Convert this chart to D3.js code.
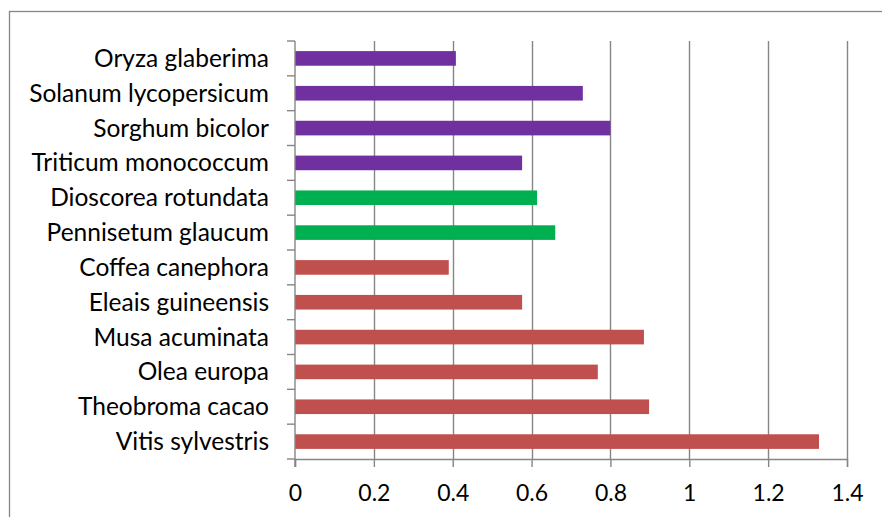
<!DOCTYPE html>
<html>
<head>
<meta charset="utf-8">
<script src="https://cdn.jsdelivr.net/npm/d3@7"></script>
<style>
  body { margin: 0; background: #fff; }
  text { font-family: Lato, "Open Sans", sans-serif; fill: #000; }
</style>
</head>
<body>
<svg id="chart" width="882" height="517"></svg>
<script>
// categories top to bottom
var species = ["Oryza glaberima", "Solanum lycopersicum", "Sorghum bicolor", "Triticum monococcum",
    "Dioscorea rotundata", "Pennisetum glaucum", "Coffea canephora", "Eleais guineensis",
    "Musa acuminata", "Olea europa", "Theobroma cacao", "Vitis sylvestris"];
var values = [0.408, 0.73, 0.80, 0.576, 0.614, 0.66, 0.39, 0.576, 0.885, 0.768, 0.898, 1.329];
var groups = ["purple", "purple", "purple", "purple", "green", "green", "red", "red", "red", "red", "red", "red"];
var xTicks = [0, 0.2, 0.4, 0.6, 0.8, 1, 1.2, 1.4];

var colors = { purple: "#7030A0", green: "#00B050", red: "#C0504D" };
var gridColor = "#868686";

var svg = d3.select("#chart");
var plotLeft = 295, plotRight = 847, plotTop = 41, plotBottom = 459;

// outer frame
svg.append("rect")
    .attr("x", 9.5).attr("y", 11.5)
    .attr("width", 900).attr("height", 600)
    .attr("fill", "none")
    .attr("stroke", gridColor)
    .attr("stroke-width", 1.3);

var xScale = d3.scaleLinear().domain([0, 1.4]).range([plotLeft, plotRight]);
var yScale = d3.scaleBand().domain(species).range([plotTop, plotBottom]).paddingInner(0.58).paddingOuter(0.29);

// vertical gridlines
svg.append("g")
    .attr("class", "grid")
    .selectAll("line")
    .data(xTicks.slice(1))
    .enter().append("line")
    .attr("x1", d => Math.round(xScale(d)) + 0.5)
    .attr("x2", d => Math.round(xScale(d)) + 0.5)
    .attr("y1", plotTop)
    .attr("y2", plotBottom)
    .attr("stroke", gridColor)
    .attr("stroke-width", 1.4);

// bars
svg.append("g")
    .selectAll("rect")
    .data(species)
    .enter().append("rect")
    .attr("x", xScale(0))
    .attr("y", d => yScale(d))
    .attr("width", (d, i) => xScale(values[i]) - xScale(0))
    .attr("height", yScale.bandwidth())
    .attr("fill", (d, i) => colors[groups[i]]);

// bottom axis
var xAxis = svg.append("g")
    .attr("transform", `translate(0,${plotBottom})`)
    .call(d3.axisBottom(xScale).tickValues(xTicks).tickSize(8).tickPadding(18).tickFormat(d3.format("")));
xAxis.select(".domain").attr("stroke", gridColor).attr("stroke-width", 1.4);
xAxis.selectAll(".tick line").attr("stroke", gridColor).attr("stroke-width", 1.4);
xAxis.selectAll("text").style("font-size", "23px").attr("font-family", null);

// left axis: ticks at category boundaries
var bandStep = (plotBottom - plotTop) / species.length;
var boundaries = d3.range(species.length + 1).map(i => plotTop + i * bandStep);
var yAxis = svg.append("g");
yAxis.append("line")
    .attr("x1", plotLeft).attr("x2", plotLeft)
    .attr("y1", plotTop).attr("y2", plotBottom + 8)
    .attr("stroke", gridColor).attr("stroke-width", 1.4);
yAxis.selectAll(".bt")
    .data(boundaries)
    .enter().append("line")
    .attr("class", "bt")
    .attr("x1", plotLeft - 8).attr("x2", plotLeft)
    .attr("y1", d => d).attr("y2", d => d)
    .attr("stroke", gridColor).attr("stroke-width", 1.4);

// category labels
svg.append("g")
    .selectAll("text")
    .data(species)
    .enter().append("text")
    .attr("x", plotLeft - 26)
    .attr("y", d => yScale(d) + yScale.bandwidth() / 2)
    .attr("dy", "0.35em")
    .attr("text-anchor", "end")
    .style("font-size", "24.5px")
    .text(d => d);
</script>
</body>
</html>
